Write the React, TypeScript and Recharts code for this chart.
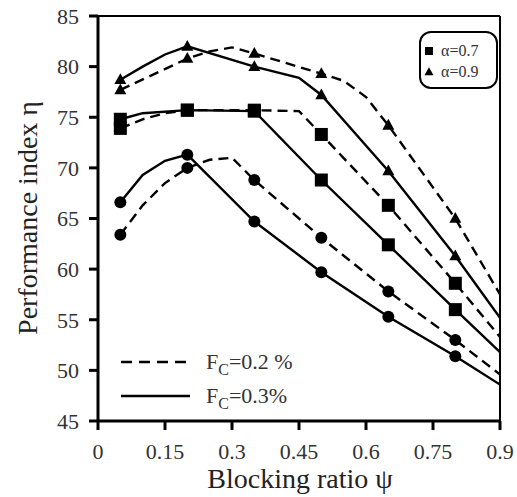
import { LineChart, Line, XAxis, YAxis, ReferenceLine } from "recharts";

const xTicks = [0, 0.15, 0.3, 0.45, 0.6, 0.75, 0.9];
const yTicks = [45, 50, 55, 60, 65, 70, 75, 80, 85];
const markerX = [0.05, 0.2, 0.35, 0.5, 0.65, 0.8];

// alpha = 0.9 (triangles)
const tri02X = [0.05, 0.2, 0.25, 0.3, 0.35, 0.5, 0.55, 0.6, 0.65, 0.8, 0.9];
const tri02Y = [77.7, 80.8, 81.5, 81.9, 81.3, 79.3, 78.6, 77.0, 74.2, 65.0, 57.5];
const tri03X = [0.05, 0.1, 0.15, 0.2, 0.35, 0.45, 0.5, 0.65, 0.8, 0.9];
const tri03Y = [78.7, 80.0, 81.2, 82.0, 80.0, 78.9, 77.2, 69.7, 61.3, 55.2];

// alpha = 0.7 (squares)
const sq02X = [0.05, 0.1, 0.15, 0.2, 0.35, 0.45, 0.5, 0.65, 0.8, 0.9];
const sq02Y = [73.9, 74.8, 75.4, 75.7, 75.7, 75.6, 73.3, 66.3, 58.6, 53.3];
const sq03X = [0.05, 0.1, 0.2, 0.35, 0.5, 0.65, 0.8, 0.9];
const sq03Y = [74.8, 75.4, 75.7, 75.6, 68.8, 62.4, 56.0, 51.8];

// circles
const cir02X = [0.05, 0.1, 0.15, 0.2, 0.25, 0.3, 0.35, 0.5, 0.65, 0.8, 0.9];
const cir02Y = [63.4, 66.3, 68.5, 70.0, 70.8, 71.0, 68.8, 63.1, 57.8, 53.0, 49.6];
const cir03X = [0.05, 0.1, 0.15, 0.2, 0.35, 0.5, 0.65, 0.8, 0.9];
const cir03Y = [66.6, 69.3, 70.7, 71.3, 64.7, 59.7, 55.3, 51.4, 48.6];

const toPoints = (xs: number[], ys: number[]) => xs.map((x, i) => ({ x, y: ys[i] }));

const series = [
  { id: "tri02", data: toPoints(tri02X, tri02Y), dashed: true, shape: "triangle" },
  { id: "tri03", data: toPoints(tri03X, tri03Y), dashed: false, shape: "triangle" },
  { id: "sq02", data: toPoints(sq02X, sq02Y), dashed: true, shape: "square" },
  { id: "sq03", data: toPoints(sq03X, sq03Y), dashed: false, shape: "square" },
  { id: "cir02", data: toPoints(cir02X, cir02Y), dashed: true, shape: "circle" },
  { id: "cir03", data: toPoints(cir03X, cir03Y), dashed: false, shape: "circle" },
];

const font = '"Liberation Serif", "Times New Roman", serif';

function markerShape(shape: string, cx: number, cy: number, s: number, key?: string) {
  if (shape === "circle") return <circle key={key} cx={cx} cy={cy} r={s / 2} fill="#000" />;
  if (shape === "square")
    return <rect key={key} x={cx - s / 2} y={cy - s / 2} width={s} height={s} fill="#000" />;
  const h = s * 0.9;
  return (
    <polygon
      key={key}
      points={`${cx},${cy - h * 0.6} ${cx - s / 2},${cy + h * 0.4} ${cx + s / 2},${cy + h * 0.4}`}
      fill="#000"
    />
  );
}

export default function App() {
  return (
    <div style={{ position: "absolute", left: 0, top: 0, width: 517, height: 497, background: "#fff", fontFamily: font }}>
      <LineChart width={517} height={497} margin={{ top: 16, right: 17, left: 0, bottom: 0 }}>
        <XAxis
          dataKey="x"
          type="number"
          domain={[0, 0.9]}
          ticks={xTicks}
          allowDataOverflow
          height={76}
          tickSize={9}
          tickMargin={13}
          axisLine={{ stroke: "#000", strokeWidth: 3 }}
          tickLine={{ stroke: "#000", strokeWidth: 3 }}
          tick={{ fill: "#333", fontSize: 22, fontFamily: font }}
          tickFormatter={(v: number) => String(v)}
        />
        <YAxis
          type="number"
          domain={[45, 85]}
          ticks={yTicks}
          allowDataOverflow
          width={98}
          tickSize={9}
          tickMargin={10}
          axisLine={{ stroke: "#000", strokeWidth: 3 }}
          tickLine={{ stroke: "#000", strokeWidth: 3 }}
          tick={{ fill: "#333", fontSize: 22, fontFamily: font }}
        />
        <ReferenceLine y={85} stroke="#000" strokeWidth={2} />
        <ReferenceLine x={0.9} stroke="#000" strokeWidth={2} />
        {series.map((s) => (
          <Line
            key={s.id}
            data={s.data}
            dataKey="y"
            type="linear"
            stroke="#000"
            strokeWidth={2.4}
            strokeDasharray={s.dashed ? "10 6" : undefined}
            isAnimationActive={false}
            activeDot={false}
            dot={(p: any) => {
              const k = `${s.id}-${p.index}`;
              if (!p.payload || !markerX.includes(p.payload.x)) return <g key={k} />;
              return markerShape(s.shape, p.cx, p.cy, s.shape === "circle" ? 12 : s.shape === "square" ? 13 : 12, k);
            }}
          />
        ))}
      </LineChart>
      <svg width={517} height={497} style={{ position: "absolute", left: 0, top: 0, pointerEvents: "none" }}>
        <text transform="translate(37,218) rotate(-90)" textAnchor="middle" fontSize={28} fontFamily={font} fill="#222">
          Performance index η
        </text>
        <text x={300} y={488} textAnchor="middle" fontSize={28} fontFamily={font} fill="#222">
          Blocking ratio ψ
        </text>
        <rect x={420} y={32} width={77} height={56} rx={11} fill="#fff" stroke="#000" strokeWidth={2} />
        {markerShape("square", 429, 51, 8)}
        {markerShape("triangle", 429, 72, 9)}
        <text x={441} y={56} fontSize={16} fontFamily={font} fill="#333">α=0.7</text>
        <text x={441} y={77} fontSize={16} fontFamily={font} fill="#333">α=0.9</text>
        <line x1={121} x2={190} y1={362} y2={362} stroke="#000" strokeWidth={2.5} strokeDasharray="11 7" />
        <line x1={121} x2={190} y1={396} y2={396} stroke="#000" strokeWidth={2.5} />
        <text x={206} y={369} fontSize={22} fontFamily={font} fill="#333">
          F<tspan fontSize={16} dy={6}>C</tspan><tspan dy={-6}>=0.2 %</tspan>
        </text>
        <text x={206} y={403} fontSize={22} fontFamily={font} fill="#333">
          F<tspan fontSize={16} dy={6}>C</tspan><tspan dy={-6}>=0.3%</tspan>
        </text>
      </svg>
    </div>
  );
}
